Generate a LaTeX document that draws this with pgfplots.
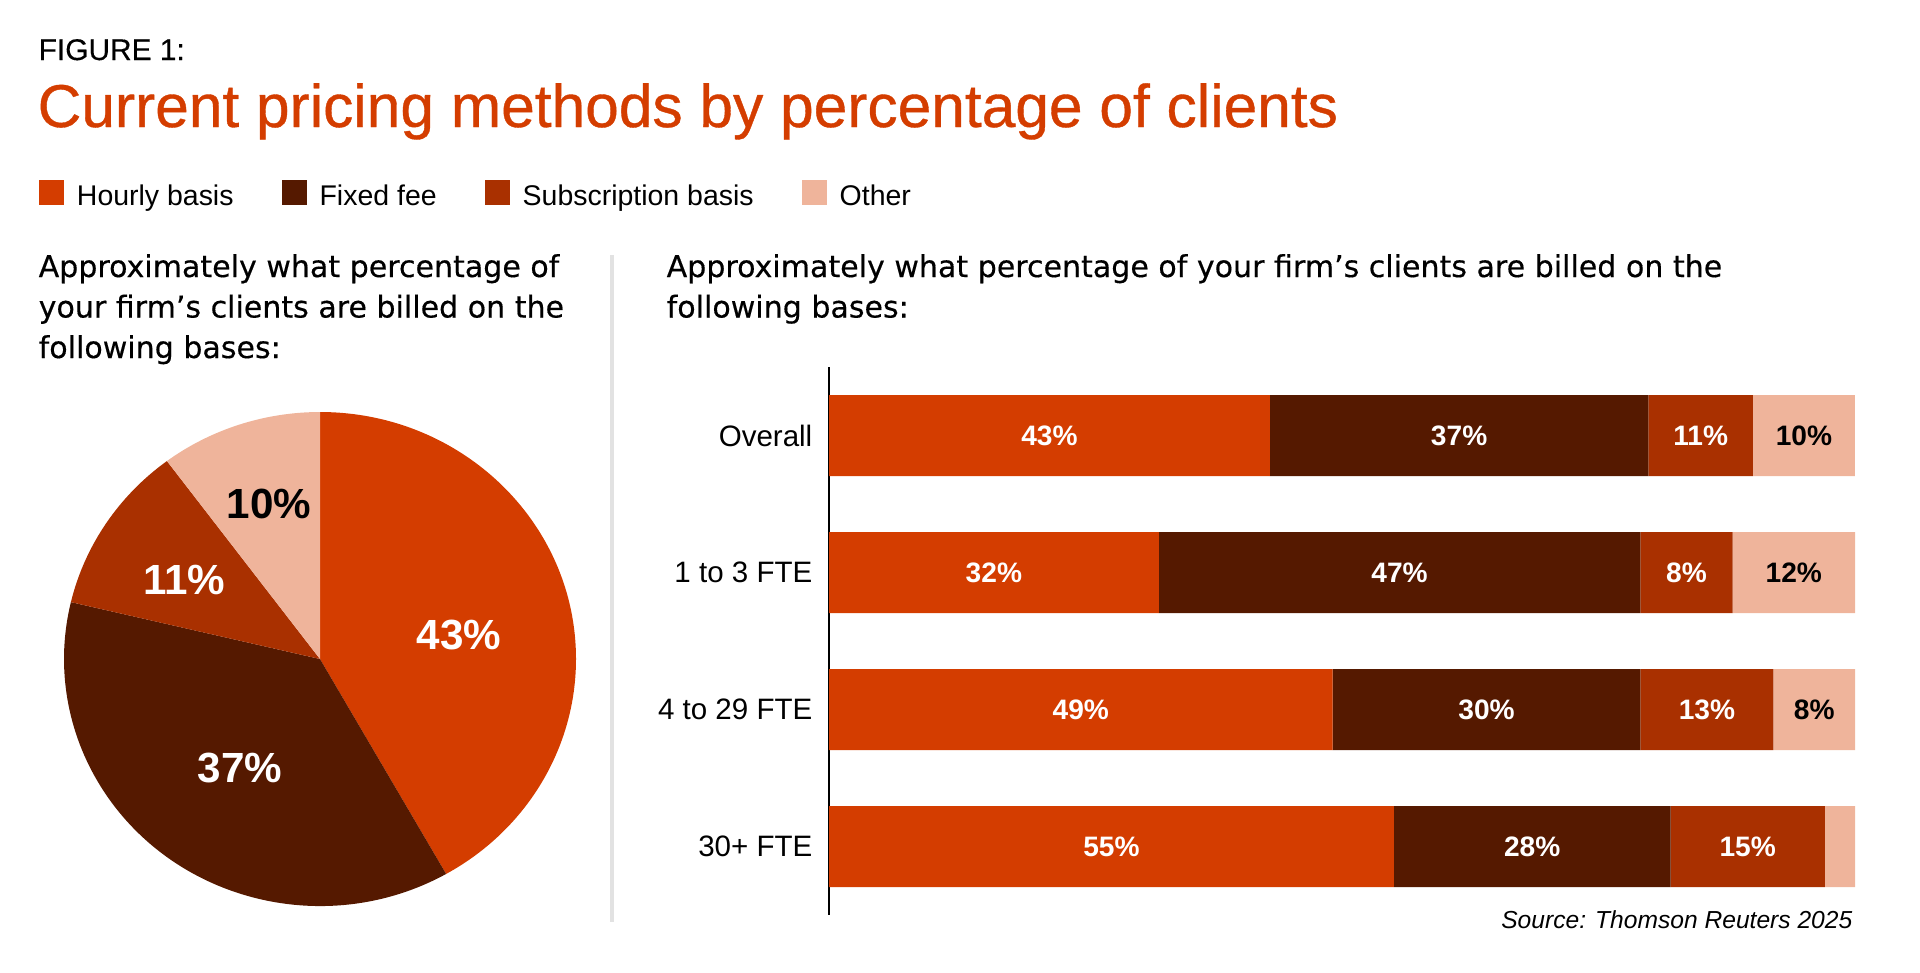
\documentclass[border=0pt]{standalone}
\usepackage{fontspec}
\setmainfont{Liberation Sans}
\newfontfamily\subfont[FakeBold=0.4]{DejaVu Sans}
\newfontfamily\titlefont[FakeBold=0.6]{Liberation Sans}
\newfontfamily\figfont[FakeBold=0.3]{Liberation Sans}
\usepackage{pgfplots}
\usepackage{pgfplotstable}
\pgfplotsset{compat=1.18}

\definecolor{hourly}{HTML}{D43D00}
\definecolor{fixedfee}{HTML}{551900}
\definecolor{subscr}{HTML}{A93000}
\definecolor{other}{HTML}{EFB49B}
\definecolor{sepgray}{HTML}{E2E2E2}

\pgfplotsset{sqlegend/.style={legend image code/.code={\fill[##1] (0cm,-0.075cm) rectangle (0.25cm,0.175cm);}}}

% pie: share of the circle as drawn, printed label
\pgfplotstableread{
share label
41.8 43
36.9 37
11.1 11
10.2 10
}\piedata

\begin{document}
\begin{tikzpicture}[x=1cm,y=1cm]
\path[use as bounding box] (0,0) rectangle (19.2,-9.72);

% headings
\node[anchor=base west, inner sep=0pt, font=\figfont\fontsize{8.5}{10}\selectfont] at (0.38,-0.60) {FIGURE 1:};
\node[anchor=base west, inner sep=0pt, text=hourly, font=\titlefont\fontsize{17.2}{20}\selectfont] at (0.37,-1.27) {Current pricing methods by percentage of clients};

% sub headings
\begin{scope}[every node/.style={anchor=base west, inner sep=0pt, font=\subfont\fontsize{8.55}{10}\selectfont}]
\node at (0.38,-2.77) {Approximately what percentage of};
\node at (0.38,-3.175) {your firm’s clients are billed on the};
\node at (0.38,-3.58) {following bases:};
\node at (6.66,-2.77) {Approximately what percentage of your firm’s clients are billed on the};
\node at (6.66,-3.175) {following bases:};
\end{scope}

% divider
\draw[sepgray, line width=1.1pt] (6.12,-2.55) -- (6.12,-9.22);

% pie angles from the table
\pgfplotstablegetelem{0}{share}\of\piedata \pgfmathsetmacro\sA{\pgfplotsretval}
\pgfplotstablegetelem{1}{share}\of\piedata \pgfmathsetmacro\sB{\pgfplotsretval}
\pgfplotstablegetelem{2}{share}\of\piedata \pgfmathsetmacro\sC{\pgfplotsretval}
\pgfplotstablegetelem{3}{share}\of\piedata \pgfmathsetmacro\sD{\pgfplotsretval}
\pgfmathsetmacro\aA{90}
\pgfmathsetmacro\aB{\aA-3.6*\sA}
\pgfmathsetmacro\aC{\aB-3.6*\sB}
\pgfmathsetmacro\aD{\aC-3.6*\sC}
\pgfmathsetmacro\aE{\aD-3.6*\sD}

\begin{axis}[
    at={(3.20cm,-6.59cm)}, anchor=center,
    scale only axis, width=5.12cm, height=4.94cm,
    xmin=-1, xmax=1, ymin=-1, ymax=1,
    hide axis, clip=false,
]
\fill[hourly]   (axis cs:0,0) -- (axis cs:{cos(\aA)},{sin(\aA)}) arc[start angle=\aA, end angle=\aB, x radius=2.56cm, y radius=2.47cm] -- cycle;
\fill[fixedfee] (axis cs:0,0) -- (axis cs:{cos(\aB)},{sin(\aB)}) arc[start angle=\aB, end angle=\aC, x radius=2.56cm, y radius=2.47cm] -- cycle;
\fill[subscr]   (axis cs:0,0) -- (axis cs:{cos(\aC)},{sin(\aC)}) arc[start angle=\aC, end angle=\aD, x radius=2.56cm, y radius=2.47cm] -- cycle;
\fill[other]    (axis cs:0,0) -- (axis cs:{cos(\aD)},{sin(\aD)}) arc[start angle=\aD, end angle=\aE, x radius=2.56cm, y radius=2.47cm] -- cycle;
\begin{scope}[every node/.style={font=\bfseries\fontsize{12}{14}\selectfont, inner sep=0pt}]
\node[text=white] at (axis cs:0.543,0.097) {43\%};
\node[text=white] at (axis cs:-0.312,-0.441) {37\%};
\node[text=white] at (axis cs:-0.531,0.320) {11\%};
\node[text=black] at (axis cs:-0.199,0.628) {10\%};
\end{scope}
\end{axis}

\begin{axis}[
    at={(8.29cm,-9.15cm)}, anchor=south west,
    scale only axis, width=10.26cm, height=5.48cm,
    xbar stacked, bar width=0.81cm,
    xmin=0, xmax=100, ymin=-0.5, ymax=3.5, y dir=reverse,
    axis x line=none, axis y line=left,
    y axis line style={-, line width=0.6pt},
    xtick=\empty,
    ytick={0,1,2,3},
    yticklabels={Overall, 1 to 3 FTE, 4 to 29 FTE, 30+ FTE},
    major tick length=0pt,
    yticklabel style={font=\fontsize{8.4}{10}\selectfont, inner sep=0pt, xshift=-0.16cm},
    clip=false,
    point meta=explicit symbolic,
    nodes near coords,
    every node near coord/.append style={font=\bfseries\fontsize{8}{10}\selectfont, anchor=center},
    legend columns=4,
    legend cell align=left,
    legend style={
        at={(axis description cs:-0.770,1.313)}, anchor=west,
        draw=none, fill=none, inner sep=0pt, outer sep=0pt,
        nodes={inner sep=0pt},
        font=\fontsize{8.1}{10}\selectfont,
        /tikz/every odd column/.append style={column sep=0.13cm},
        /tikz/every even column/.append style={column sep=0.48cm},
    },
]
\addplot[fill=hourly, draw=none, sqlegend, every node near coord/.append style={text=white}]
    coordinates {(42.96,0) [43\%] (32.14,1) [32\%] (49.09,2) [49\%] (55.05,3) [55\%]};
\addplot[fill=fixedfee, draw=none, sqlegend, every node near coord/.append style={text=white}]
    coordinates {(36.91,0) [37\%] (46.94,1) [47\%] (29.99,2) [30\%] (26.97,3) [28\%]};
\addplot[fill=subscr, draw=none, sqlegend, every node near coord/.append style={text=white}]
    coordinates {(10.18,0) [11\%] (8.99,1) [8\%] (12.97,2) [13\%] (15.04,3) [15\%]};
\addplot[fill=other, draw=none, sqlegend, every node near coord/.append style={text=black}]
    coordinates {(9.94,0) [10\%] (11.93,1) [12\%] (7.96,2) [8\%] (2.94,3) [{}]};
\legend{Hourly basis, Fixed fee, Subscription basis, Other}
\end{axis}

\node[anchor=base east, inner sep=0pt, font=\itshape\fontsize{7}{9}\selectfont] at (18.53,-9.28) {Source: Thomson Reuters 2025};
\end{tikzpicture}
\end{document}
